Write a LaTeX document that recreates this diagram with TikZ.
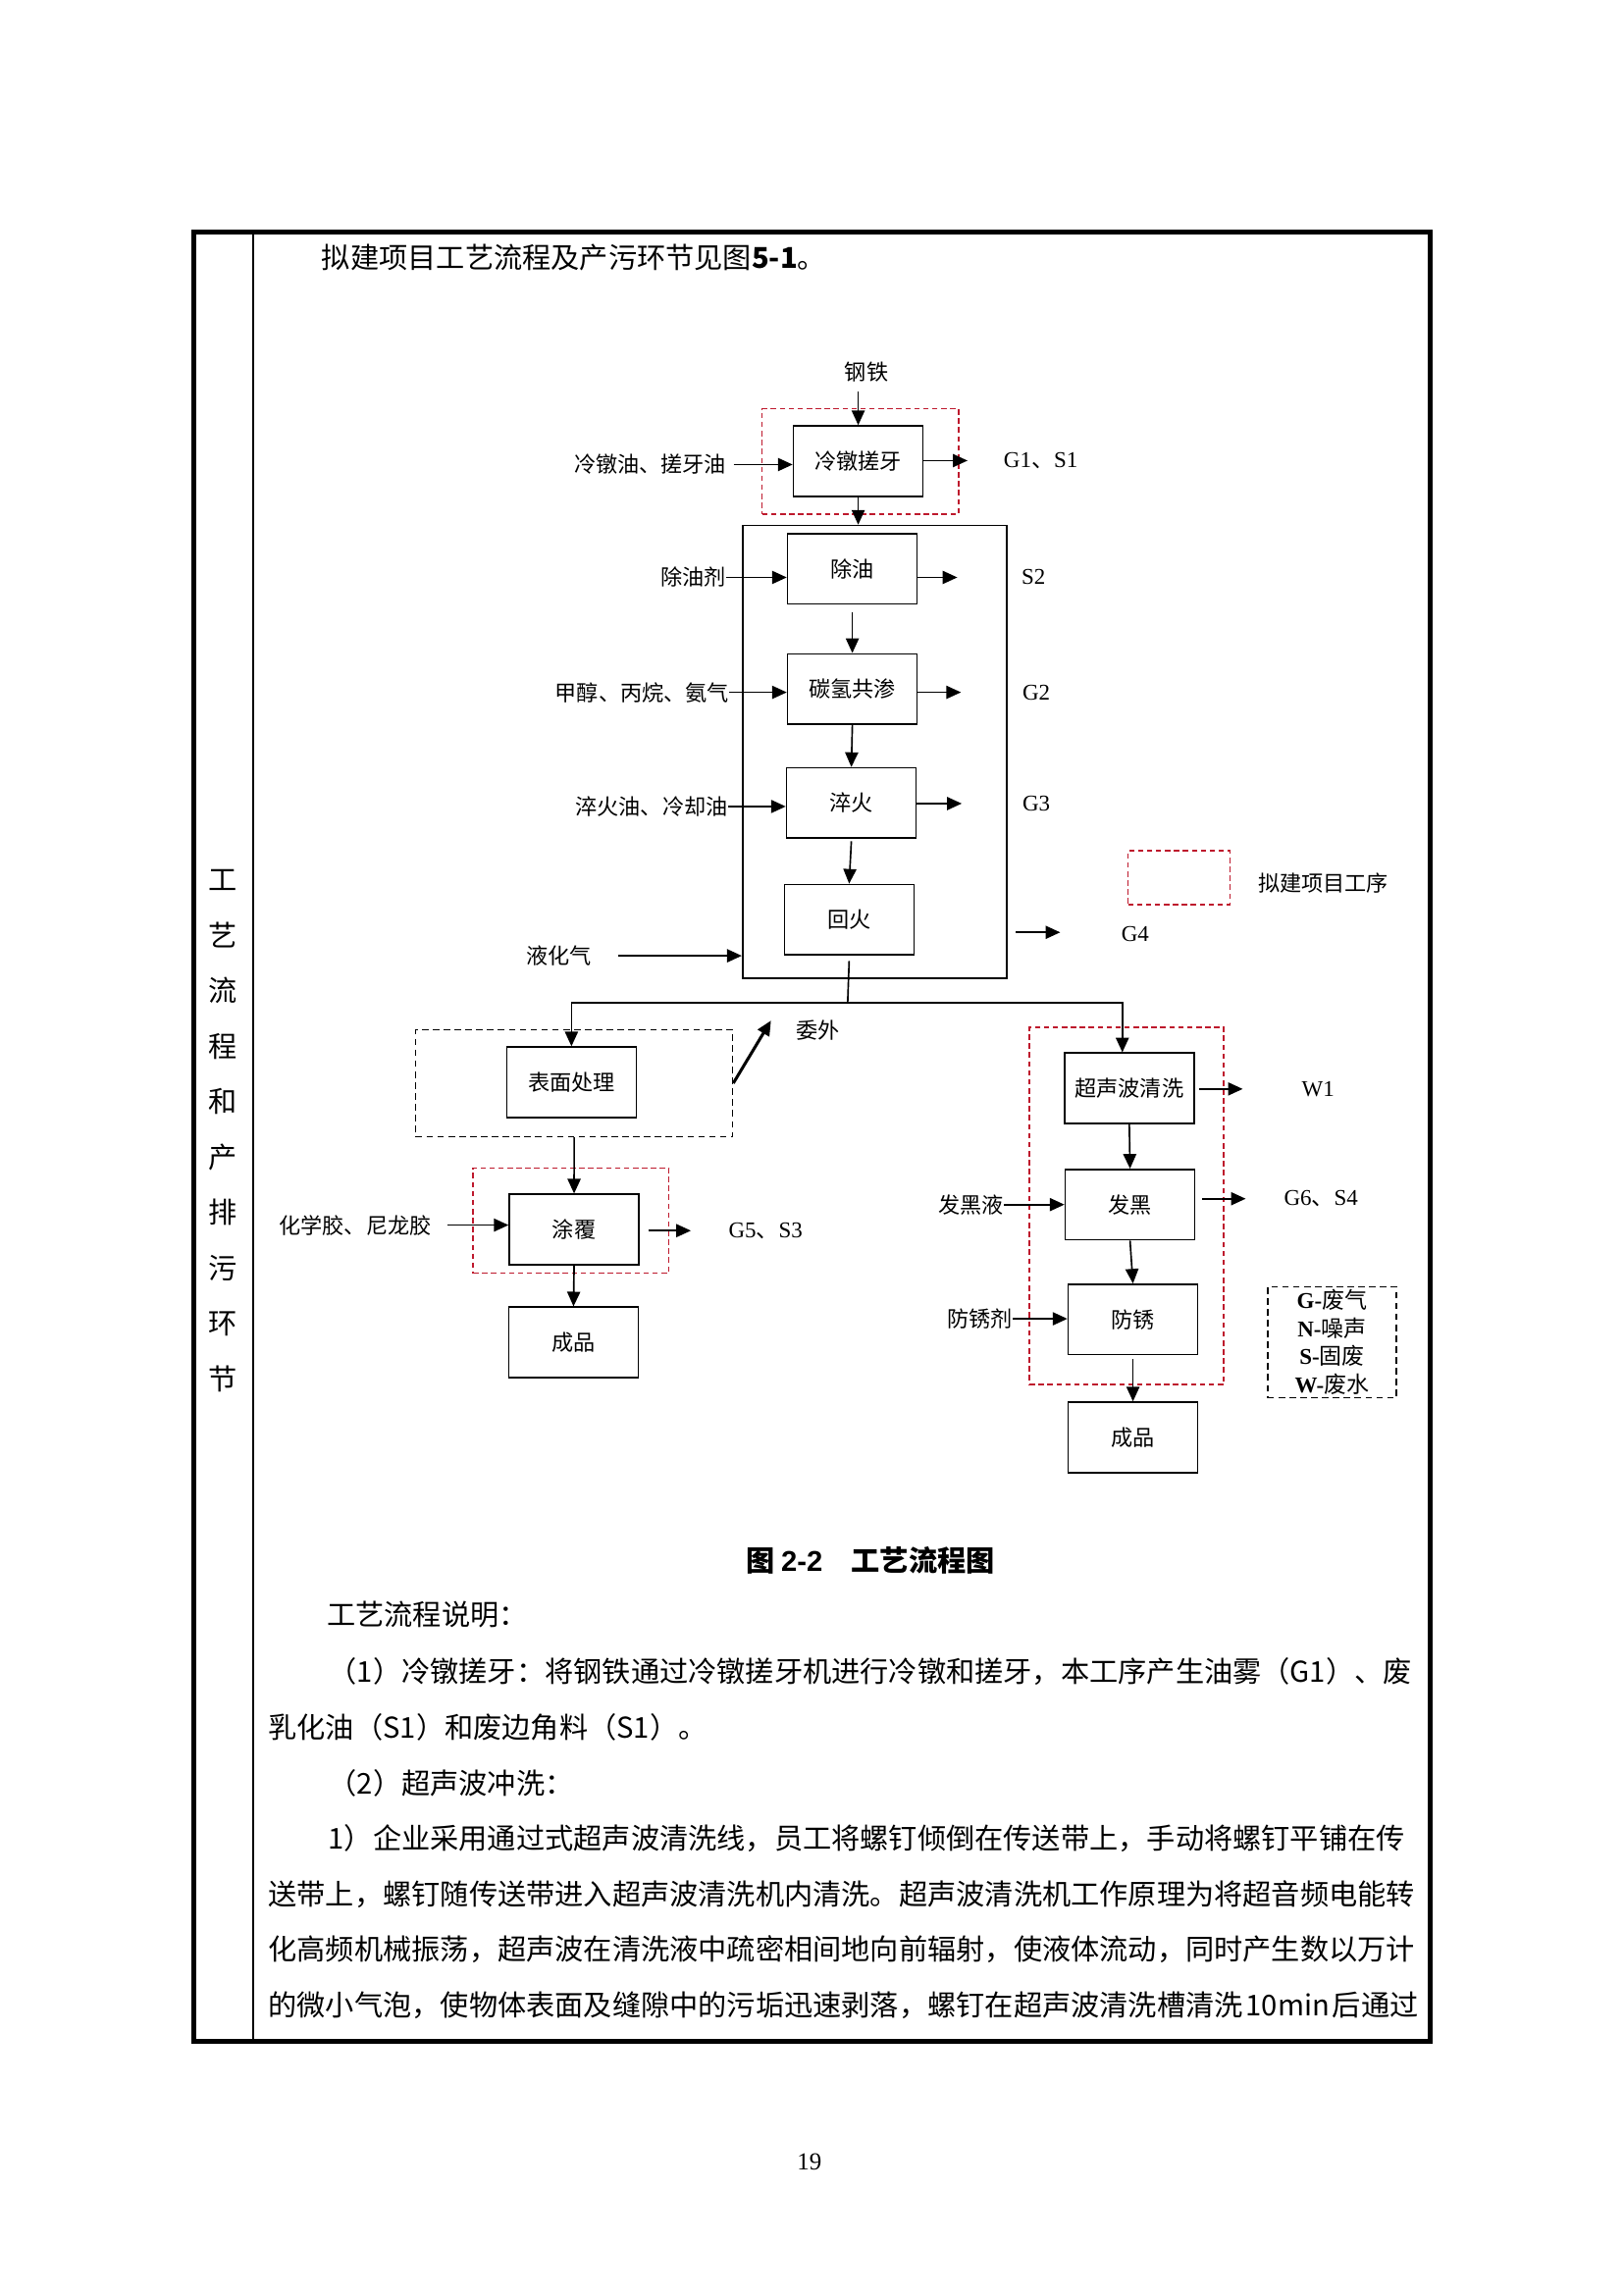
\documentclass[tikz,border=0pt]{standalone}
\usepackage{fontspec}
\setmainfont{Liberation Serif}
\newfontfamily\cjk{Noto Sans CJK SC}
\newfontfamily\arialf{Liberation Sans}
\usetikzlibrary{arrows.meta,fit}
\newcommand\zh[1]{{\cjk #1}}
\definecolor{dkred}{RGB}{190,25,45}
\begin{document}
\begin{tikzpicture}[x=0.18936mm, y=-0.18936mm,
  proc/.style={draw, line width=0.6pt, minimum width=16.76mm, minimum height=9.09mm, inner sep=0pt, font=\cjk\fontsize{8}{9.6}\selectfont},
  lab/.style={inner sep=0pt, font=\fontsize{8.3}{9.6}\selectfont},
  zlab/.style={inner sep=0pt, font=\cjk\fontsize{8}{9.6}\selectfont},
  arr/.style={draw, line width=0.6pt, -{Triangle[length=5.4pt,width=4.8pt]}},
  reddash/.style={draw=dkred, line width=0.5pt, dash pattern=on 2pt off 1.3pt, inner sep=0pt},
  blkdash/.style={draw, line width=0.5pt, dash pattern=on 2.4pt off 1.6pt, inner sep=0pt},
  body/.style={inner sep=0pt, anchor=west, font=\cjk\fontsize{10.55}{12}\selectfont},
  vchar/.style={inner sep=0pt, font=\cjk\fontsize{10.55}{12}\selectfont}]
\fill[white] (0,0) rectangle (1109,1568);
\useasboundingbox (0,0) rectangle (1109,1568);

% table frame
\node[draw, line width=1.8pt, inner sep=0pt, fit={(132.7,158.7) (977,1394.6)}] (tab) {};
\coordinate (ct) at (173,158.7);
\coordinate (cb) at (173,1394.6);
\draw[line width=1pt] (ct) -- (cb);

% vertical column text
\foreach \c [count=\i from 0] in {工,艺,流,程,和,产,排,污,环,节}
  \node[vchar] (v\i) at (152,601+37.9*\i) {\c};

% body text
\node[body] (t0) at (219.5,176) {拟建项目工艺流程及产污环节见图{\bfseries 5-1}。};
\node[inner sep=0pt, font=\cjk\bfseries\fontsize{10.55}{12}\selectfont] (cap) at (594.6,1066) {图 {\arialf\bfseries 2-2}\hspace{1em}工艺流程图};
\node[body] (t1) at (223,1103) {工艺流程说明：};
\node[body] (t2) at (224,1142) {（1）冷镦搓牙：将钢铁通过冷镦搓牙机进行冷镦和搓牙，本工序产生油雾（G1）、废};
\node[body] (t3) at (183,1180) {乳化油（S1）和废边角料（S1）。};
\node[body] (t4) at (224,1218) {（2）超声波冲洗：};
\node[body] (t5) at (224,1256) {1）企业采用通过式超声波清洗线，员工将螺钉倾倒在传送带上，手动将螺钉平铺在传};
\node[body] (t6) at (183,1294) {送带上，螺钉随传送带进入超声波清洗机内清洗。超声波清洗机工作原理为将超音频电能转};
\node[body] (t7) at (183,1332) {化高频机械振荡，超声波在清洗液中疏密相间地向前辐射，使液体流动，同时产生数以万计};
\node[body] (t8) at (183,1370) {的微小气泡，使物体表面及缝隙中的污垢迅速剥落，螺钉在超声波清洗槽清洗\hspace{0.1em}10min\hspace{0.1em}后通过};
\node[inner sep=0pt, font=\fontsize{9}{10}\selectfont] (pg) at (553,1477) {19};

% dashed groups and big box
\node[reddash, fit={(520.7,279.4) (654.9,351.3)}] (r1) {};
\node[draw, line width=0.6pt, inner sep=0pt, fit={(507.3,359) (687.6,668.3)}] (fur) {};
\node[blkdash, fit={(284,703.5) (500.5,776.6)}] (surf) {};
\node[reddash, fit={(323.2,797.9) (457,869.8)}] (r2) {};
\node[reddash, fit={(703.3,701.8) (836,946)}] (r3) {};
\node[reddash, fit={(770.6,581.3) (840.2,618)}] (legr) {};
\node[blkdash, fit={(866,879) (954,955)}] (leg) {};

% process boxes
\node[proc] (n1) at (586.3,315) {冷镦搓牙};
\node[proc] (n2) at (582.3,388.7) {除油};
\node[proc] (n3) at (582.3,470.7) {碳氢共渗};
\node[proc] (n4) at (581.6,548.6) {淬火};
\node[proc] (n5) at (580.1,628.3) {回火};
\node[proc] (n6) at (390.4,739.4) {表面处理};
\node[proc] (n7) at (392.2,840) {涂覆};
\node[proc] (n8) at (391.8,917.1) {成品};
\node[proc] (n9) at (771.5,743.5) {超声波清洗};
\node[proc] (n10) at (772,823) {发黑};
\node[proc] (n11) at (774,901.5) {防锈};
\node[proc] (n12) at (774,982) {成品};

% input labels
\node[zlab] (s0) at (592,254) {钢铁};
\node[zlab, anchor=east] (i1) at (496.5,317.4) {冷镦油、搓牙油};
\node[zlab, anchor=east] (i2) at (496.3,394.5) {除油剂};
\node[zlab, anchor=east] (i3) at (498.4,473) {甲醇、丙烷、氨气};
\node[zlab, anchor=east] (i4) at (497.5,551) {淬火油、冷却油};
\node[zlab] (i5) at (381.6,653) {液化气};
\node[zlab, anchor=east] (i7) at (295,837) {化学胶、尼龙胶};
\node[zlab, anchor=east] (i10) at (686,823) {发黑液};
\node[zlab, anchor=east] (i11) at (692,901) {防锈剂};

% output labels
\node[lab] (g1) at (711,315) {G1\zh{、}S1};
\node[lab] (s2) at (706,394.5) {S2};
\node[lab] (g2) at (708,473) {G2};
\node[lab] (g3) at (708,549) {G3};
\node[lab] (g4) at (775.5,638) {G4};
\node[lab] (g5) at (523,841) {G5\zh{、}S3};
\node[lab] (w1) at (900.5,744) {W1};
\node[lab] (g6) at (902.5,819) {G6\zh{、}S4};
\node[zlab] (wl) at (558.8,704) {委外};
\node[zlab] (legt) at (904,603.4) {拟建项目工序};
\node[inner sep=0pt, align=center, font=\fontsize{8.3}{10.3}\selectfont] (legtxt) at (leg.center) {\textbf{G-}\zh{废气}\\\textbf{N-}\zh{噪声}\\\textbf{S-}\zh{固废}\\\textbf{W-}\zh{废水}};

% free ends
\coordinate (o1) at (661,314.7);
\coordinate (o2) at (654,394.5);
\coordinate (o3) at (656.5,473);
\coordinate (o4) at (657,549);
\coordinate (o5) at (724.3,637);
\coordinate (o7) at (472,840.8);
\coordinate (o9) at (849,744);
\coordinate (o10) at (851,819);
\coordinate (sp) at (579.1,685);
\coordinate (wo) at (526.7,697.3);

% inputs
\draw[arr] ([yshift=-1.2mm]s0.south -| n1.north) -- (n1.north);
\draw[arr] ([xshift=0.9mm]i1.east) -- (i1.east -| n1.west);
\draw[arr] (i2.east) -- (i2.east -| n2.west);
\draw[arr] (i3.east) -- (i3.east -| n3.west);
\draw[arr] (i4.east) -- (i4.east -| n4.west);
\draw[arr] ([xshift=3.4mm]i5.east) -- (i5.east -| fur.west);
\draw[arr] ([xshift=2mm]i7.east) -- (i7.east -| n7.west);
\draw[arr] (i10.east) -- (i10.east -| n10.west);
\draw[arr] (i11.east) -- (i11.east -| n11.west);

% outputs
\draw[arr] (o1 -| n1.east) -- (o1);
\draw[arr] (o2 -| n2.east) -- (o2);
\draw[arr] (o3 -| n3.east) -- (o3);
\draw[arr] (o4 -| n4.east) -- (o4);
\draw[arr] ([xshift=1.1mm]o5 -| fur.east) -- (o5);
\draw[arr] ([xshift=1.1mm]o7 -| n7.east) -- (o7);
\draw[arr] ([xshift=0.6mm]o9 -| n9.east) -- (o9);
\draw[arr] ([xshift=0.8mm]o10 -| n10.east) -- (o10);

% main flow
\draw[arr] (n1.south) -- (n1.south |- fur.north);
\draw[arr] ([yshift=-0.9mm]n2.south) -- (n3.north);
\draw[arr] (n3.south) -- (n4.north);
\draw[arr] ([yshift=-0.3mm]n4.south) -- (n5.north);
\draw[line width=0.6pt] ([yshift=-0.7mm]n5.south) -- (sp);
\draw[arr] (sp) -| (n6.north);
\draw[arr] (sp) -| ([xshift=-0.9mm]n9.north);
\draw[arr, line width=1.1pt] (surf.east) -- (wo);
\draw[arr] (surf.south) -- (n7.north);
\draw[arr] (n7.south) -- (n8.north);
\draw[arr] (n9.south) -- (n10.north);
\draw[arr] (n10.south) -- (n11.north);
\draw[arr] ([yshift=-0.5mm]n11.south) -- (n12.north);
\end{tikzpicture}
\end{document}
